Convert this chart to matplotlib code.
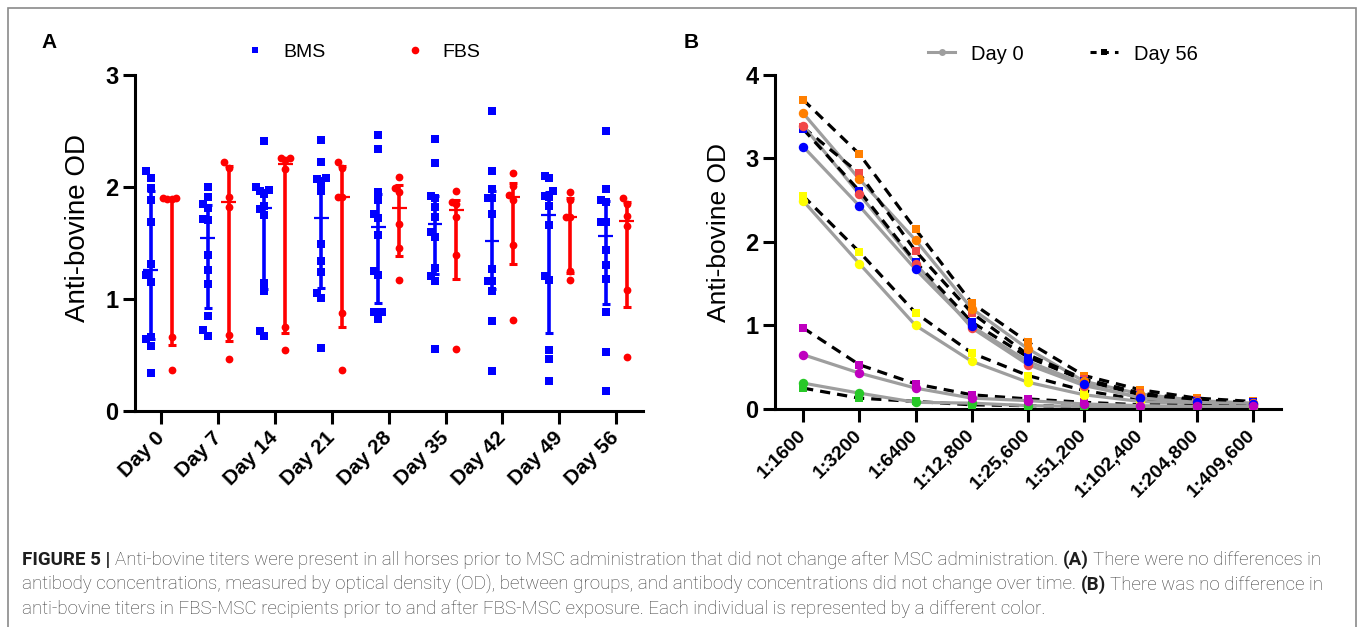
import numpy as np
import matplotlib
matplotlib.use('Agg')
import matplotlib.pyplot as plt
from matplotlib.lines import Line2D
from matplotlib.patches import Rectangle

plt.rcParams['font.family'] = ['Liberation Sans', 'DejaVu Sans']

# ---------------- data: panel A ----------------
days = ["Day 0", "Day 7", "Day 14", "Day 21", "Day 28", "Day 35", "Day 42", "Day 49", "Day 56"]
bms_day0 = [2.14, 2.08, 1.99, 1.88, 1.69, 1.31, 1.21, 1.15, 0.66, 0.64, 0.58, 0.34]
bms_day7 = [2.00, 1.91, 1.85, 1.81, 1.71, 1.70, 1.39, 1.26, 1.13, 0.85, 0.72, 0.67]
bms_day14 = [2.41, 2.00, 1.97, 1.96, 1.94, 1.83, 1.80, 1.75, 1.14, 1.07, 0.71, 0.67]
bms_day21 = [2.42, 2.22, 2.08, 2.07, 2.03, 1.96, 1.49, 1.34, 1.24, 1.05, 1.01, 0.56]
bms_day28 = [2.46, 2.34, 1.95, 1.88, 1.76, 1.72, 1.57, 1.25, 1.21, 0.88, 0.88, 0.82]
bms_day35 = [2.43, 2.21, 1.92, 1.90, 1.82, 1.73, 1.60, 1.55, 1.28, 1.20, 1.16, 0.55]
bms_day42 = [2.68, 2.14, 1.98, 1.90, 1.90, 1.76, 1.27, 1.16, 1.16, 1.07, 0.80, 0.36]
bms_day49 = [2.10, 2.08, 1.96, 1.92, 1.91, 1.83, 1.66, 1.20, 1.17, 0.54, 0.46, 0.27]
bms_day56 = [2.50, 1.98, 1.88, 1.86, 1.69, 1.69, 1.44, 1.30, 1.18, 0.88, 0.53, 0.18]

fbs_day0 = [1.90, 1.90, 1.89, 1.89, 0.66, 0.37]
fbs_day7 = [2.22, 2.17, 1.91, 1.82, 0.68, 0.46]
fbs_day14 = [2.26, 2.26, 2.24, 2.16, 0.75, 0.54]
fbs_day21 = [2.22, 2.17, 1.91, 1.91, 0.87, 0.37]
fbs_day28 = [2.09, 1.99, 1.95, 1.67, 1.45, 1.17]
fbs_day35 = [1.96, 1.86, 1.85, 1.73, 1.39, 0.55]
fbs_day42 = [2.12, 2.01, 1.93, 1.88, 1.48, 0.81]
fbs_day49 = [1.95, 1.88, 1.73, 1.73, 1.25, 1.17]
fbs_day56 = [1.90, 1.85, 1.74, 1.65, 1.08, 0.48]

bms_groups = [bms_day0, bms_day7, bms_day14, bms_day21, bms_day28,
              bms_day35, bms_day42, bms_day49, bms_day56]
fbs_groups = [fbs_day0, fbs_day7, fbs_day14, fbs_day21, fbs_day28,
              fbs_day35, fbs_day42, fbs_day49, fbs_day56]

# ---------------- data: panel B ----------------
dilutions = ["1:1600", "1:3200", "1:6400", "1:12,800", "1:25,600",
             "1:51,200", "1:102,400", "1:204,800", "1:409,600"]
orange_day0 = [3.54, 2.75, 2.02, 1.20, 0.72, 0.33, 0.18, 0.10, 0.07]
orange_day56 = [3.70, 3.05, 2.15, 1.27, 0.80, 0.40, 0.23, 0.13, 0.09]
red_day0 = [3.39, 2.57, 1.74, 0.97, 0.53, 0.28, 0.14, 0.08, 0.06]
red_day56 = [3.37, 2.82, 1.89, 1.15, 0.65, 0.36, 0.19, 0.11, 0.08]
blue_day0 = [3.14, 2.43, 1.67, 0.99, 0.57, 0.30, 0.13, 0.08, 0.06]
blue_day56 = [3.35, 2.61, 1.76, 1.04, 0.62, 0.34, 0.17, 0.10, 0.08]
yellow_day0 = [2.49, 1.74, 1.00, 0.57, 0.32, 0.17, 0.09, 0.06, 0.04]
yellow_day56 = [2.55, 1.88, 1.15, 0.67, 0.40, 0.22, 0.11, 0.07, 0.05]
magenta_day0 = [0.65, 0.43, 0.25, 0.13, 0.10, 0.06, 0.04, 0.03, 0.03]
magenta_day56 = [0.97, 0.53, 0.30, 0.17, 0.12, 0.08, 0.05, 0.04, 0.03]
green_day0 = [0.31, 0.19, 0.08, 0.07, 0.04, 0.03, 0.02, 0.02, 0.01]
green_day56 = [0.25, 0.13, 0.09, 0.05, 0.04, 0.03, 0.02, 0.02, 0.02]

individuals = [
    ("#28C828", green_day0, green_day56),
    ("#FFFF00", yellow_day0, yellow_day56),
    ("#FF7F00", orange_day0, orange_day56),
    ("#F24848", red_day0, red_day56),
    ("#0000FF", blue_day0, blue_day56),
    ("#BF00BF", magenta_day0, magenta_day56),
]

caption_lines = [
    [("FIGURE 5 |", True), ("Anti-bovine titers were present in all horses prior to MSC administration that did not change after MSC administration.", False),
     ("(A)", True), ("There were no differences in", False)],
    [("antibody concentrations, measured by optical density (OD), between groups, and antibody concentrations did not change over time.", False),
     ("(B)", True), ("There was no difference in", False)],
    [("anti-bovine titers in FBS-MSC recipients prior to and after FBS-MSC exposure. Each individual is represented by a different color.", False)],
]

# ---------------- figure ----------------
W, H = 1362, 627
fig = plt.figure(figsize=(W / 100, H / 100), dpi=100)


def fx(px):
    return px / W


def fy(py):
    return 1 - py / H


BLUE = "#0000FF"
RED = "#FF0000"
SPINE_LW = 2.2


def style_axis(ax, ymax):
    for s in ("top", "right"):
        ax.spines[s].set_visible(False)
    for s in ("left", "bottom"):
        ax.spines[s].set_linewidth(SPINE_LW)
    ax.spines["left"].set_bounds(0, ymax)
    ax.tick_params(axis="both", width=SPINE_LW, length=9, color="black")
    ax.tick_params(axis="y", labelsize=17, pad=3)
    for lab in ax.get_yticklabels():
        lab.set_fontweight("bold")


def swarm_offsets(vals, step, dy):
    order = np.argsort(vals)
    placed = []
    offs = np.zeros(len(vals))
    for i in order:
        v = vals[i]
        for k in [0, -1, 1, -2, 2, -3, 3]:
            o = k * step
            ok = True
            for (pv, po) in placed:
                if abs(pv - v) < dy and abs(po - o) < step * 0.9:
                    ok = False
                    break
            if ok:
                offs[i] = o
                placed.append((v, o))
                break
    return offs


# ---------- Panel A ----------
axA = fig.add_axes([fx(135), fy(411), fx(643 - 135), (411 - 74.7) / H])
axA.set_xlim(-0.46, 8.47)
axA.set_ylim(0, 3)
axA.set_yticks([0, 1, 2, 3])
style_axis(axA, 3)
axA.set_xticks(range(len(days)))
axA.set_xticklabels(days, rotation=45, ha="right", va="center",
                    rotation_mode="anchor", fontsize=15, fontweight="bold")
axA.tick_params(axis="x", pad=8)
axA.set_ylabel("Anti-bovine OD", fontsize=20)
axA.yaxis.set_label_coords((91 - 135) / (643 - 135), (411 - 228) / (411 - 74.7))

grp_off = 0.185
for i, (b, f) in enumerate(zip(bms_groups, fbs_groups)):
    for vals, color, marker, sgn, ms in ((b, BLUE, "s", -1, 5.4), (f, RED, "o", 1, 5.6)):
        vals = np.array(vals)
        xc = i + sgn * grp_off
        q1, med, q3 = np.percentile(vals, [25, 50, 75], method="weibull")
        axA.errorbar([xc], [med], yerr=[[med - q1], [q3 - med]], fmt="none",
                     ecolor=color, elinewidth=2.6, capsize=2.8, capthick=2.2, zorder=2)
        axA.plot([xc - 0.13, xc + 0.13], [med, med], color=color, lw=1.6, zorder=2,
                 solid_capstyle="butt")
        offs = swarm_offsets(vals, 0.075, 0.062)
        axA.plot(xc + offs, vals, ls="none", marker=marker, ms=ms, color=color,
                 mec=color, mew=0, zorder=3)

legA = [Line2D([], [], ls="none", marker="s", ms=4.5, color=BLUE, mew=0, label="BMS"),
        Line2D([], [], ls="none", marker="o", ms=5.5, color=RED, mew=0, label="FBS")]
fig.legend(handles=legA, loc="center left", bbox_to_anchor=(fx(245), fy(52)),
           ncol=2, frameon=False, fontsize=14, handlelength=1.0, handletextpad=0.95,
           columnspacing=4.1, borderpad=0, borderaxespad=0)

# ---------- Panel B ----------
axB = fig.add_axes([fx(775), fy(409), fx(1281 - 775), (409 - 74.7) / H])
axB.set_xlim(-0.5, 8.5)
axB.set_ylim(0, 4)
axB.set_yticks([0, 1, 2, 3, 4])
style_axis(axB, 4)
axB.set_xticks(range(len(dilutions)))
axB.set_xticklabels(dilutions, rotation=45, ha="right", va="center",
                    rotation_mode="anchor", fontsize=14, fontweight="bold")
axB.tick_params(axis="x", pad=8)
axB.set_ylabel("Anti-bovine OD", fontsize=19)
axB.yaxis.set_label_coords((731 - 775) / (1281 - 775), (409 - 233) / (409 - 74.7))

xB = np.arange(len(dilutions))
GRAY = "#9E9E9E"
for color, d0, d56 in individuals:
    axB.plot(xB, d56, color="black", lw=2.3, ls=(0, (3.2, 2.2)), zorder=2)
    axB.plot(xB, d0, color=GRAY, lw=2.3, zorder=2)
for color, d0, d56 in individuals:
    axB.plot(xB, d56, ls="none", marker="s", ms=6.4, color=color, mew=0, zorder=3)
for color, d0, d56 in individuals:
    axB.plot(xB, d0, ls="none", marker="o", ms=6.8, color=color, mew=0, zorder=4)

legB = [Line2D([], [], color=GRAY, lw=2.2, marker="o", ms=5, mew=0, label="Day 0"),
        Line2D([], [], color="black", lw=2.2, ls=(0, (2, 2)), marker="s", ms=5, mew=0,
               label="Day 56")]
fig.legend(handles=legB, loc="center left", bbox_to_anchor=(fx(928), fy(54)),
           ncol=2, frameon=False, fontsize=14.5, handlelength=1.35, handletextpad=0.8,
           columnspacing=3.3, borderpad=0, borderaxespad=0)

# panel letters
fig.text(fx(49), fy(42), "A", fontsize=15, fontweight="bold", ha="center", va="center")
fig.text(fx(691), fy(42), "B", fontsize=15, fontweight="bold", ha="center", va="center")

# border
fig.patches.append(Rectangle((fx(8), -0.05), fx(1356 - 8), fy(8) + 0.05,
                             transform=fig.transFigure, fill=False,
                             edgecolor="#8A8A8A", lw=1.2, clip_on=False))

# ---------- caption ----------
renderer = fig.canvas.get_renderer()
CAP_COLOR = "#3C3C3C"
CAP_FAMILY = ["Roboto", "Liberation Sans", "DejaVu Sans"]


def measure(text, bold, fs):
    t = fig.text(0, 0, text, fontsize=fs, fontweight="bold" if bold else "light",
                 family=CAP_FAMILY)
    w = t.get_window_extent(renderer).width
    t.remove()
    return w


def line_width(segs, fs):
    sp = measure("x x", False, fs) - measure("xx", False, fs)
    return sum(measure(s, b, fs) for s, b in segs) + sp * (len(segs) - 1)


base_fs = 12.0
target = 1318 - 22
cap_fs = base_fs * target / line_width(caption_lines[0], base_fs)

space_w = measure("x x", False, cap_fs) - measure("xx", False, cap_fs)
baselines = [565, 589.5, 614]
for segs, yb in zip(caption_lines, baselines):
    x = 22.0
    for s, b in segs:
        t = fig.text(fx(x), fy(yb), s, fontsize=cap_fs,
                     fontweight="bold" if b else "light", family=CAP_FAMILY,
                     color="#1E1E1E" if b else CAP_COLOR, va="baseline", ha="left")
        x += t.get_window_extent(renderer).width + space_w

fig.savefig("out.png", dpi=100)
